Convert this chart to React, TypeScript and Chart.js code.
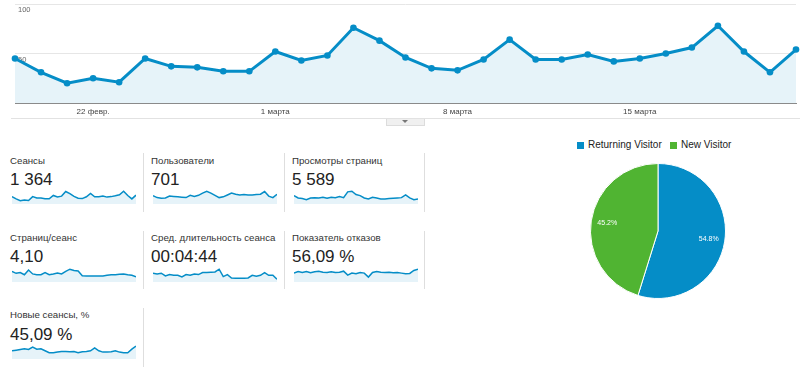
import React, { useEffect, useRef } from "react";
import { Chart, registerables } from "chart.js";

Chart.register(...registerables);

const FONT = "Arial, 'Liberation Sans', sans-serif";
const BLUE = "#058dc7";
const GREEN = "#50b432";
const FILL = "#e6f3f9";

// ---- data ----
const days = [
  "19 февр.", "20 февр.", "21 февр.", "22 февр.", "23 февр.", "24 февр.", "25 февр.", "26 февр.", "27 февр.", "28 февр.",
  "1 марта", "2 марта", "3 марта", "4 марта", "5 марта", "6 марта", "7 марта", "8 марта", "9 марта", "10 марта",
  "11 марта", "12 марта", "13 марта", "14 марта", "15 марта", "16 марта", "17 марта", "18 марта", "19 марта", "20 марта", "21 марта",
];
const xTickLabels = ["22 февр.", "1 марта", "8 марта", "15 марта"];
const yTickValues = [50, 100];

const sessions = [45, 31, 20, 25, 21, 45, 37, 36, 32, 32, 52, 43, 48, 76, 63, 46, 35, 33, 44, 64, 44, 44, 49, 42, 45, 50, 56, 78, 52, 31, 54];
const users = [22, 17, 15, 16, 21, 20, 19, 18, 17, 23, 20, 23, 29, 34, 29, 23, 17, 19, 24, 29, 26, 24, 25, 24, 24, 25, 26, 33, 21, 17, 26];
const pageviews = [227, 164, 146, 118, 164, 172, 164, 182, 154, 182, 172, 200, 172, 328, 346, 255, 227, 164, 136, 182, 164, 136, 136, 146, 154, 164, 172, 245, 164, 118, 136];
const pagesPerSession = [5.4, 4.4, 4.8, 3.7, 6.1, 4.1, 3.7, 3.7, 4.8, 3.7, 4.1, 4.6, 4.1, 5.4, 6.5, 5.8, 5.6, 3.2, 3.1, 3.1, 3.1, 3.1, 3.1, 3.4, 3.7, 3.7, 3.9, 4.1, 3.7, 3.4, 2.7];
const avgDurationSec = [351, 324, 351, 243, 297, 270, 270, 203, 297, 270, 324, 297, 378, 378, 392, 405, 513, 216, 297, 162, 149, 149, 149, 162, 270, 230, 270, 378, 270, 270, 108];
const bounceRate = [50.5, 59.8, 54.2, 59.8, 52.4, 58, 61.7, 56.1, 54.2, 58, 54.2, 56.1, 61.7, 39.3, 50.5, 46.8, 54.2, 50.5, 28, 54.2, 59.8, 56.1, 54.2, 56.1, 52.4, 54.2, 50.5, 46.8, 48.6, 65.5, 72.9];
const newSessionsPct = [45, 48.6, 52.2, 55.8, 52.2, 64.8, 54, 55.8, 45, 34.2, 34.2, 37.8, 41.4, 41.4, 39.6, 41.4, 34.2, 39.6, 41.4, 45, 61.2, 45, 37.8, 37.8, 39.6, 45, 37.8, 34.2, 34.2, 54, 70.2];

const metricTitles = ["Сеансы", "Пользователи", "Просмотры страниц", "Страниц/сеанс", "Сред. длительность сеанса", "Показатель отказов", "Новые сеансы, %"];
const metricValues = ["1 364", "701", "5 589", "4,10", "00:04:44", "56,09 %", "45,09 %"];
const metricSeries = [sessions, users, pageviews, pagesPerSession, avgDurationSec, bounceRate, newSessionsPct];

const visitorTypes = ["Returning Visitor", "New Visitor"];
const visitorShares = [54.8, 45.2];
const visitorColors = [BLUE, GREEN];

// ---- layout (positions only) ----
const colLeft = [10, 151, 292];
const sparkLeft = [12, 153, 294];
const titleTop = [155, 231.5, 308.5];
const valueTop = [170, 247.4, 325.4];
const sparkBottom = [204, 282, 358.5];
const sepX = [143, 284, 424];
const sepRows: [number, number][] = [[153, 212], [231, 289], [308, 367]];

function MainChart() {
  const ref = useRef<HTMLCanvasElement>(null);
  useEffect(() => {
    const chart = new Chart(ref.current!, {
      type: "line",
      data: {
        labels: days,
        datasets: [
          {
            data: sessions,
            borderColor: BLUE,
            borderWidth: 3,
            backgroundColor: FILL,
            fill: "origin",
            pointRadius: 3.3,
            pointBackgroundColor: BLUE,
            pointBorderWidth: 0,
            tension: 0,
            clip: false as any,
          },
        ],
      },
      options: {
        responsive: false,
        animation: false,
        events: [],
        layout: { padding: { top: 4, right: 3, left: 0, bottom: 0 } },
        plugins: { legend: { display: false }, tooltip: { enabled: false } },
        scales: {
          x: {
            offset: false,
            grid: { display: false, drawTicks: false, tickLength: 0 },
            border: { display: true, color: "#8a8a8a", width: 1 },
            ticks: {
              autoSkip: false,
              maxRotation: 0,
              padding: 4,
              color: "#444",
              font: { size: 8, family: FONT },
              callback: (_v: any, i: number) => (xTickLabels.includes(days[i]) ? days[i] : ""),
            },
            afterFit: (s: any) => {
              s.height = 15;
              s.paddingLeft = 0;
              s.paddingRight = 0;
            },
          },
          y: {
            min: 0,
            max: 100,
            grid: { color: "#e6e6e6", drawTicks: false },
            border: { display: false },
            ticks: {
              stepSize: 50,
              mirror: true,
              padding: 3,
              labelOffset: 6,
              color: "#666",
              font: { size: 7.5, family: FONT },
              callback: (v: any) => (yTickValues.includes(Number(v)) ? String(v) : ""),
            },
            afterFit: (s: any) => {
              s.width = 15;
              s.paddingTop = 0;
              s.paddingBottom = 0;
            },
          },
        },
      },
    });
    return () => chart.destroy();
  }, []);
  return <canvas ref={ref} width={800} height={118} style={{ position: "absolute", left: 0, top: 0 }} />;
}

function Spark({ data, left, bottom }: { data: number[]; left: number; bottom: number }) {
  const ref = useRef<HTMLCanvasElement>(null);
  useEffect(() => {
    const chart = new Chart(ref.current!, {
      type: "line",
      data: {
        labels: days,
        datasets: [
          {
            data,
            borderColor: BLUE,
            borderWidth: 1.5,
            backgroundColor: FILL,
            fill: "origin",
            pointRadius: 0,
            tension: 0,
            clip: false as any,
          },
        ],
      },
      options: {
        responsive: false,
        animation: false,
        events: [],
        layout: { padding: 0 },
        plugins: { legend: { display: false }, tooltip: { enabled: false } },
        scales: {
          x: { display: false, offset: false },
          y: { display: false, min: 0, max: Math.max(...data) * 1.25 },
        },
      },
    });
    return () => chart.destroy();
  }, [data]);
  return <canvas ref={ref} width={124} height={16} style={{ position: "absolute", left, top: bottom - 16 }} />;
}

const pieLabelPlugin = {
  id: "pieLabels",
  afterDatasetsDraw(chart: any) {
    const ctx = chart.ctx;
    const meta = chart.getDatasetMeta(0);
    const vals = chart.data.datasets[0].data as number[];
    const total = vals.reduce((a, b) => a + b, 0);
    ctx.save();
    ctx.fillStyle = "#ffffff";
    ctx.font = `7px ${FONT}`;
    ctx.textAlign = "center";
    ctx.textBaseline = "middle";
    meta.data.forEach((arc: any, i: number) => {
      const { x, y, startAngle, endAngle, outerRadius } = arc.getProps(["x", "y", "startAngle", "endAngle", "outerRadius"], true);
      const mid = (startAngle + endAngle) / 2;
      const r = outerRadius * 0.76;
      ctx.fillText(((vals[i] / total) * 100).toFixed(1) + "%", x + Math.cos(mid) * r, y + Math.sin(mid) * r);
    });
    ctx.restore();
  },
};

function PieChart() {
  const ref = useRef<HTMLCanvasElement>(null);
  useEffect(() => {
    const chart = new Chart(ref.current!, {
      type: "pie",
      data: {
        labels: visitorTypes,
        datasets: [
          {
            data: visitorShares,
            backgroundColor: visitorColors,
            borderColor: "#ffffff",
            borderWidth: 1,
          },
        ],
      },
      options: {
        responsive: false,
        animation: false,
        events: [],
        layout: { padding: 0 },
        plugins: { legend: { display: false }, tooltip: { enabled: false } },
      },
      plugins: [pieLabelPlugin],
    });
    return () => chart.destroy();
  }, []);
  return <canvas ref={ref} width={136} height={136} style={{ position: "absolute", left: 590, top: 163 }} />;
}

export default function App() {
  const abs = (s: React.CSSProperties): React.CSSProperties => ({ position: "absolute", ...s });
  return (
    <div style={abs({ left: 0, top: 0, width: 800, height: 372, background: "#fff", overflow: "hidden", fontFamily: FONT })}>
      <MainChart />
      <div style={abs({ left: 11, top: 118, width: 789, height: 1, background: "#e2e2e2" })} />
      <div style={abs({ left: 386, top: 119, width: 37, height: 6, background: "#f0f0f0", border: "1px solid #dcdcdc", borderTop: "none" })}>
        <div style={abs({ left: 15, top: 1, width: 0, height: 0, borderLeft: "3px solid transparent", borderRight: "3px solid transparent", borderTop: "3px solid #777" })} />
      </div>

      {metricTitles.map((t, i) => {
        const row = Math.floor(i / 3);
        const col = i % 3;
        return (
          <React.Fragment key={t}>
            <div style={abs({ left: colLeft[col], top: titleTop[row], fontSize: 9.7, lineHeight: "12px", color: "#333", whiteSpace: "nowrap" })}>{t}</div>
            <div style={abs({ left: colLeft[col], top: valueTop[row], fontSize: 17, lineHeight: "20px", color: "#222", whiteSpace: "nowrap" })}>{metricValues[i]}</div>
            <Spark data={metricSeries[i]} left={sparkLeft[col]} bottom={sparkBottom[row]} />
          </React.Fragment>
        );
      })}

      {sepRows.map(([y0, y1], r) =>
        sepX
          .filter((_, c) => r < 2 || c === 0)
          .map((x) => <div key={`${r}-${x}`} style={abs({ left: x, top: y0, width: 1, height: y1 - y0, background: "#dedede" })} />)
      )}

      <div style={abs({ left: 577, top: 142, width: 7, height: 7, background: BLUE })} />
      <div style={abs({ left: 588, top: 139, fontSize: 10, lineHeight: "12px", color: "#222", whiteSpace: "nowrap" })}>{visitorTypes[0]}</div>
      <div style={abs({ left: 670, top: 142, width: 7, height: 7, background: GREEN })} />
      <div style={abs({ left: 681, top: 139, fontSize: 10, lineHeight: "12px", color: "#222", whiteSpace: "nowrap" })}>{visitorTypes[1]}</div>

      <PieChart />
    </div>
  );
}
